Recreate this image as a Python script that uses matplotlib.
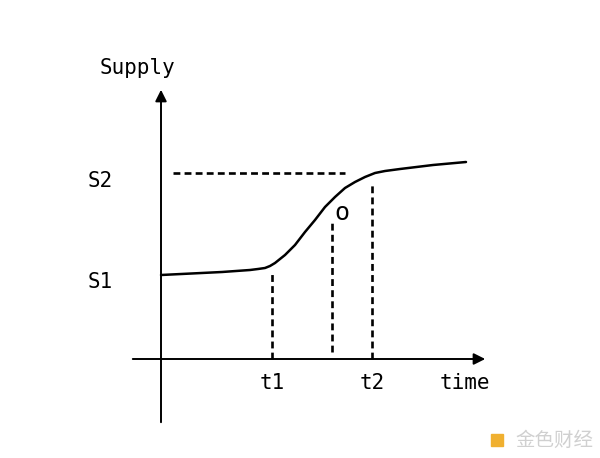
import numpy as np
import matplotlib.pyplot as plt

plt.rcParams['font.family'] = ['DejaVu Sans Mono', 'Noto Sans CJK SC']

# supply curve (time, supply), units ~ pixels from origin
curve_t = [0, 61, 89, 97, 104, 109, 114, 124, 134, 144, 154, 164, 174, 184, 194, 204, 214, 224, 239, 272, 305]
curve_s = [84, 87, 89, 90, 91, 93, 96, 104, 114, 127, 139, 152, 162, 171, 177, 182, 186, 188, 190, 194, 197]

t1, t2, t_mid = 111, 211, 171
s1, s2 = 84, 186
mid_top, mid_bottom = 136, 7

tick_labels_x = ["t1", "t2"]
tick_labels_y = ["S1", "S2"]

fig = plt.figure(figsize=(6, 4.58), dpi=100)
ax = fig.add_axes([0, 0, 1, 1])
ax.set_xlim(-161, 439)
ax.set_ylim(-99, 359)
ax.axis('off')

# axes with arrows
ax.annotate("", xy=(327, 0), xytext=(-31, 0),
            arrowprops=dict(arrowstyle='-|>', lw=1.4, color='black', mutation_scale=17))
ax.annotate("", xy=(0, 272), xytext=(0, -66),
            arrowprops=dict(arrowstyle='-|>', lw=1.4, color='black', mutation_scale=17))

# curve
ax.plot(curve_t, curve_s, color='black', lw=1.8, solid_capstyle='round', solid_joinstyle='round')

# dashed guides
dash = dict(color='black', lw=1.9, linestyle=(0, (2.6, 1.6)))
ax.plot([12, 184], [s2, s2], **dash)
ax.plot([t1, t1], [0, 86], **dash)
ax.plot([t2, t2], [0, 174], **dash)
ax.plot([t_mid, t_mid], [mid_bottom, mid_top], **dash)

ax.text(t_mid + 10, 146, "o", fontsize=18, ha='center', va='center')

# labels
fs = 15
ax.text(-24, 291, "Supply", fontsize=fs, ha='center', va='center')
ax.text(t1, -24, tick_labels_x[0], fontsize=fs, ha='center', va='center')
ax.text(t2, -24, tick_labels_x[1], fontsize=fs, ha='center', va='center')
ax.text(304, -24, "time", fontsize=fs, ha='center', va='center')
ax.text(-61, s1 - 7, tick_labels_y[0], fontsize=fs, ha='center', va='center')
ax.text(-61, s2 - 8, tick_labels_y[1], fontsize=fs, ha='center', va='center')

# watermark
ax.text(393, -81, "金色财经", fontsize=14, color='#d0d0d0', ha='center', va='center',
        family='Noto Sans CJK SC')
ax.plot([336], [-81], marker='s', markersize=9, color='#f0b030')

fig.savefig("out.png", dpi=100)
